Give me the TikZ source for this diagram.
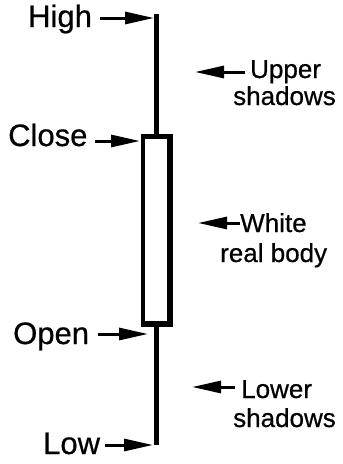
\documentclass[tikz,border=0pt]{standalone}
\usepackage{fontspec}
\setmainfont[FakeBold=0.6,AutoFakeBold=0.6]{Liberation Sans}
\usetikzlibrary{arrows.meta}
\begin{document}
\begin{tikzpicture}[x=1pt,y=-1pt,
  lbl/.style={font=\fontsize{31}{36}\selectfont, inner sep=0pt, anchor=base west},
  rlbl/.style={font=\fontsize{26}{30}\selectfont, inner sep=0pt, anchor=base west},
  ptr/.style={line width=3pt, -{Triangle[length=29pt,width=12pt]}},
  wick/.style={line width=5pt},
  bodyout/.style={fill=black},
  bodyin/.style={fill=white}]
\useasboundingbox (0,0) rectangle (343,464);
% candle
\coordinate (top) at (156,14);
\coordinate (bot) at (156,445);
\draw[wick] (top) -- (bot);
\fill[bodyout] (141,134) rectangle (173,327);
\fill[bodyin] (145,139) rectangle (167,321);
% left labels
\node[lbl] (high) at (28,27) {High};
\node[lbl] (close) at (8,146) {Close};
\node[lbl] (open) at (13,344) {Open};
\node[lbl] (low) at (43,454) {Low};
\coordinate (hightail) at (100,18);   \coordinate (hightip) at (154,18);
\coordinate (closetail) at (95,141);  \coordinate (closetip) at (140,141);
\coordinate (opentail) at (98,334);   \coordinate (opentip) at (148,334);
\coordinate (lowtail) at (105,445);   \coordinate (lowtip) at (153,445);
\draw[ptr] (hightail) -- (hightip);
\draw[ptr] (closetail) -- (closetip);
\draw[ptr] (opentail) -- (opentip);
\draw[ptr] (lowtail) -- (lowtip);
% right labels
\node[rlbl] (upper) at (250,78) {Upper};
\node[rlbl] (ushadows) at (233,105) {shadows};
\node[rlbl] (white) at (240,232) {White};
\node[rlbl] (realbody) at (220,262) {real body};
\node[rlbl] (lower) at (241,398) {Lower};
\node[rlbl] (lshadows) at (233,427) {shadows};
\coordinate (uppertail) at (245,72);  \coordinate (uppertip) at (195,72);
\coordinate (whitetail) at (240,223); \coordinate (whitetip) at (198,223);
\coordinate (lowertail) at (235,387); \coordinate (lowertip) at (192,387);
\draw[ptr] (uppertail) -- (uppertip);
\draw[ptr] (whitetail) -- (whitetip);
\draw[ptr] (lowertail) -- (lowertip);
\end{tikzpicture}
\end{document}
